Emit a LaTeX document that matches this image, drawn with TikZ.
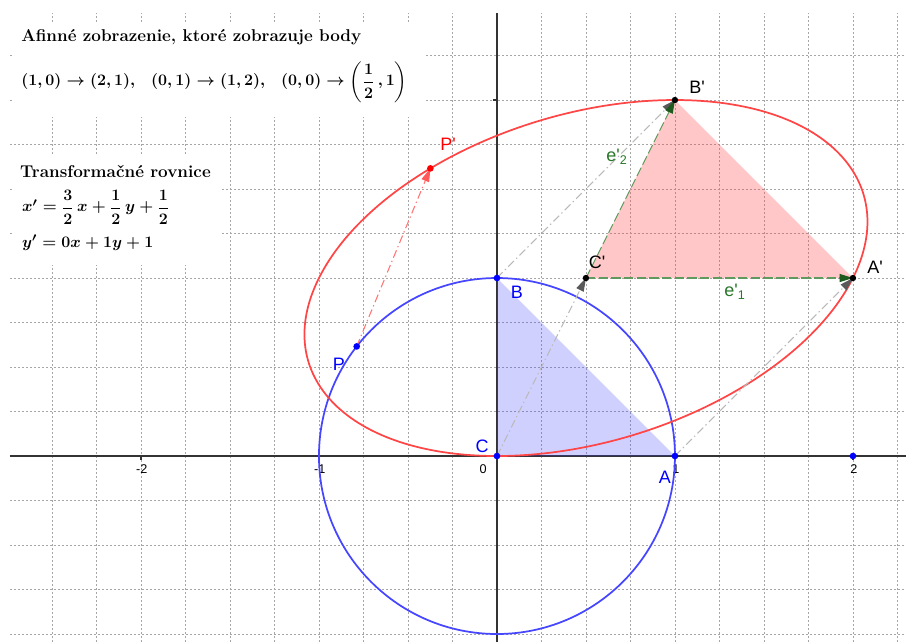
\documentclass[tikz,border=0pt]{standalone}
\usepackage{amsmath}
\usepackage{xcolor}
\usepackage{amssymb}
\usepackage{fontspec}
\newfontfamily\ggsans{Liberation Sans}
\usepackage{tikz}
\usetikzlibrary{arrows.meta,calc}

\definecolor{ggblue}{RGB}{70,70,255}
\definecolor{ggred}{RGB}{255,70,70}
\definecolor{gggreen}{RGB}{40,120,40}
\definecolor{gggray}{RGB}{185,185,185}

\begin{document}
\begin{tikzpicture}[x=133.5pt,y=133.5pt,
    mriezka/.style={line width=0.6pt,black!35,dash pattern=on 1.5pt off 1.5pt},
    os/.style={line width=1pt,black!80},
    lbl/.style={font=\ggsans\fontsize{13.5}{15}\selectfont},
    popis/.style={font=\ggsans\fontsize{9.5}{11}\selectfont},
    txt/.style={anchor=base west,inner sep=0pt,font=\fontsize{12.8}{15}\selectfont\bfseries\boldmath},
    bodkociara/.style={dash pattern=on 6pt off 2.5pt on 1pt off 2.5pt},
    vek/.style={line width=0.8pt,-{Triangle[length=10pt,width=6pt,#1]}}]
  \fill[white] (-2.792,-1.045) rectangle (2.298,2.562);
  \useasboundingbox (-2.792,-1.045) rectangle (2.298,2.562);
  % mriezka a osi
  \draw[mriezka] (-2.736,-1.045) grid[step=0.25] (2.298,2.489);
  \draw[os] (-2.736,0)--(2.298,0);
  \draw[os] (0,-1.045)--(0,2.489);
  \foreach \x in {-2,-1,1,2} \draw[os] (\x,0)--(\x,-0.02);
  \foreach \y in {-1,1,2} \draw[os] (0,\y)--(-0.02,\y);
  \foreach \x/\t in {-2/-2,-1/-1,1/1,2/2}
    \node[popis] (t\x) at (\x+0.005,-0.075) {\t};
  \node[popis] (t0) at (-0.078,-0.075) {0};

  % body
  \coordinate (A) at (1,0);
  \coordinate (B) at (0,1);
  \coordinate (C) at (0,0);
  \coordinate (D) at (2,0);
  \coordinate (P) at (142:1);
  \coordinate (Ap) at (2,1);
  \coordinate (Bp) at (1,2);
  \coordinate (Cp) at (0.5,1);
  \coordinate (Pp) at (-0.374,1.616);

  \fill[ggblue,fill opacity=0.25] (A)--(B)--(C)--cycle;
  \fill[ggred,fill opacity=0.3] (Ap)--(Bp)--(Cp)--cycle;
  \draw[ggblue,line width=1.3pt] (C) circle (1);
  \draw[ggred,line width=1.3pt,cm={1.5,0,0.5,1,(0.5,1)}] (0,0) circle (1);

  \draw[vek={color=black!65},gggray,bodkociara] (C)--(Cp);
  \draw[vek={color=black!65},gggray,bodkociara] (A)--(Ap);
  \draw[vek={color=black!65},gggray,bodkociara] (B)--(Bp);
  \draw[vek={color=ggred!90},ggred!75,bodkociara] (P)--(Pp);
  \draw[vek={color=gggreen!75!black},gggreen!75,dash pattern=on 7pt off 2.5pt] (Cp)--(Ap);
  \draw[vek={color=gggreen!75!black},gggreen!75,dash pattern=on 7pt off 2.5pt] (Cp)--(Bp);

  \foreach \b in {A,B,C,D,P} \fill[blue] (\b) circle (2.5pt);
  \foreach \b in {Ap,Bp,Cp} \fill[black] (\b) circle (2.4pt);
  \fill[red] (Pp) circle (2.5pt);

  % popisy
  \node[lbl,blue] (lA) at (0.944,-0.118) {A};
  \node[lbl,blue] (lB) at (0.112,0.918) {B};
  \node[lbl,blue] (lC) at (-0.084,0.056) {C};
  \node[lbl,blue] (lP) at (-0.888,0.517) {P};
  \node[lbl] (lAp) at (2.124,1.062) {A\textquotesingle};
  \node[lbl] (lBp) at (1.124,2.073) {B\textquotesingle};
  \node[lbl] (lCp) at (0.562,1.090) {C\textquotesingle};
  \node[lbl,red] (lPp) at (-0.275,1.753) {P\textquotesingle};
  \node[lbl,gggreen] (le1) at (1.337,0.922) {e\textquotesingle\textsubscript{1}};
  \node[lbl,gggreen] (le2) at (0.674,1.682) {e\textquotesingle\textsubscript{2}};

  % texty
  \fill[white] (-2.725,1.904) rectangle (-0.404,2.438);
  \fill[white] (-2.725,1.073) rectangle (-1.545,1.691);
  \node[txt] (nadpis) at (-2.674,2.326) {Afinné zobrazenie, ktoré zobrazuje body};
  \node[txt] (obrazy) at (-2.674,2.079)
    {$(1,0)\rightarrow(2,1),\ \ (0,1)\rightarrow(1,2),\ \ (0,0)\rightarrow\left(\dfrac{1}{2}\,,1\right)$};
  \node[txt] (rovnice) at (-2.680,1.567) {Transformačné rovnice};
  \node[txt] (rx) at (-2.669,1.371) {$x'=\dfrac{3}{2}\,x+\dfrac{1}{2}\,y+\dfrac{1}{2}$};
  \node[txt] (ry) at (-2.669,1.174) {$y'=0x+1y+1$};
\end{tikzpicture}
\end{document}
